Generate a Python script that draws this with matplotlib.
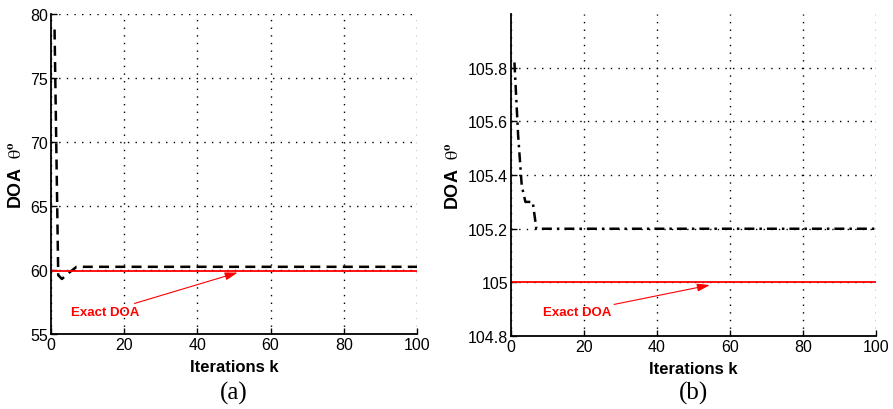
import matplotlib.pyplot as plt

plt.rcParams['font.family'] = ['Liberation Sans', 'DejaVu Sans']
plt.rcParams['mathtext.fontset'] = 'stix'

# (a) estimated DOA, source near 60 deg
k_a = [1, 2, 3, 5, 7, 100]
doa_a = [78.8, 59.6, 59.3, 59.8, 60.25, 60.25]
exact_a = 59.95

# (b) estimated DOA, source near 105 deg
k_b = [1, 2, 3, 4, 6, 7, 100]
doa_b = [105.82, 105.55, 105.36, 105.3, 105.3, 105.2, 105.2]
exact_b = 105.0

fig = plt.figure(figsize=(8.93, 4.10), dpi=100)
ax1 = fig.add_axes([0.057, 0.183, 0.410, 0.780])
ax2 = fig.add_axes([0.572, 0.178, 0.409, 0.785])


def style(ax):
    for s in ['top', 'right']:
        ax.spines[s].set_visible(False)
    for s in ['left', 'bottom']:
        ax.spines[s].set_linewidth(1.3)
    ax.tick_params(direction='in', length=4, width=1, labelsize=11.5, pad=2)
    ax.grid(True, color='black', linestyle=(0, (1, 4.5)), linewidth=1.0)
    ax.set_xlim(0, 100)
    ax.set_xticks([0, 20, 40, 60, 80, 100])
    ax.set_xlabel('Iterations k', fontsize=12, fontweight='bold', labelpad=5)
    ax.set_ylabel(r'DOA  $\mathrm{\theta}^{\mathbf{o}}$', fontsize=13,
                  fontweight='bold', labelpad=4)


ax1.plot(k_a, doa_a, color='black', linestyle=(0, (4, 2.5)), linewidth=1.8)
ax1.axhline(exact_a, color='red', linewidth=1.3)
ax1.set_ylim(55, 80)
ax1.set_yticks([55, 60, 65, 70, 75, 80])
style(ax1)
ax1.annotate('Exact DOA', xy=(51, exact_a - 0.15), xytext=(5.5, 56.7),
             color='red', fontsize=9.5, fontweight='bold', va='center',
             arrowprops=dict(arrowstyle='-|>,head_width=0.25,head_length=0.8',
                             color='red', lw=0.8, shrinkA=0, shrinkB=0))

ax2.plot(k_b, doa_b, color='black', linestyle=(0, (4, 2, 1, 2)), linewidth=1.8)
ax2.axhline(exact_b, color='red', linewidth=1.3)
ax2.set_ylim(104.8, 106.0)
ax2.set_yticks([104.8, 105.0, 105.2, 105.4, 105.6, 105.8])
ax2.set_yticklabels(['104.8', '105', '105.2', '105.4', '105.6', '105.8'])
style(ax2)
ax2.annotate('Exact DOA', xy=(54.5, exact_b - 0.01), xytext=(8.8, 104.89),
             color='red', fontsize=9.5, fontweight='bold', va='center',
             arrowprops=dict(arrowstyle='-|>,head_width=0.25,head_length=0.8',
                             color='red', lw=0.8, shrinkA=0, shrinkB=0))

fig.text(0.262, 0.025, '(a)', family='Liberation Serif', fontsize=18, ha='center')
fig.text(0.777, 0.025, '(b)', family='Liberation Serif', fontsize=18, ha='center')

fig.savefig('out.png', dpi=100)
